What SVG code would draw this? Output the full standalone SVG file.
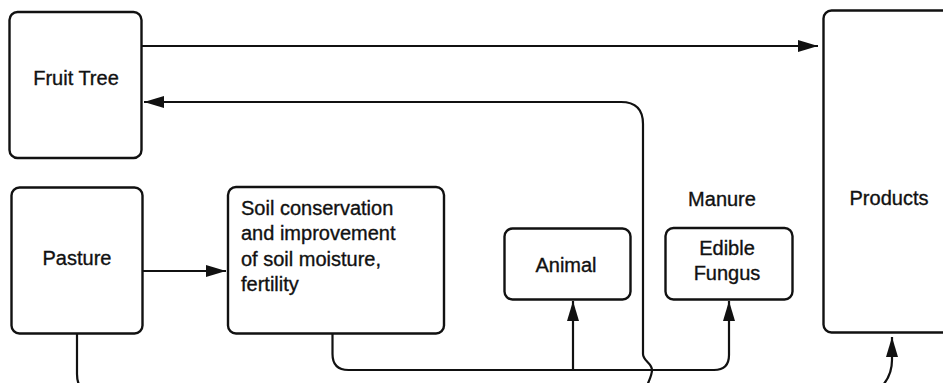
<svg xmlns="http://www.w3.org/2000/svg" width="943" height="383" viewBox="0 0 943 383">
<style>
.box{fill:#fff;stroke:#111;stroke-width:2.4}
.ln{fill:none;stroke:#111;stroke-width:2.2}
text{font-family:"Liberation Sans",Arial,sans-serif;font-size:20px;fill:#111;stroke:#111;stroke-width:0.35}
.c{text-anchor:middle}
</style>
<defs>
<marker id="ah" markerUnits="userSpaceOnUse" markerWidth="21" markerHeight="13" refX="20" refY="6" orient="auto">
<path d="M0,0 L20,6 L0,12 z" fill="#111"/>
</marker>
</defs>
<rect width="943" height="383" fill="#fff"/>
<g id="fruit-tree">
<rect class="box" x="9.5" y="12" width="132" height="146" rx="8"/>
<text class="c" x="76" y="85">Fruit Tree</text>
</g>
<g id="pasture">
<rect class="box" x="11.5" y="187.5" width="131" height="146" rx="8"/>
<text class="c" x="77" y="265">Pasture</text>
</g>
<g id="soil">
<rect class="box" x="228" y="187" width="216" height="146.5" rx="8"/>
<text x="241" y="215">Soil conservation</text>
<text x="241" y="240">and improvement</text>
<text x="241" y="266">of soil moisture,</text>
<text x="241" y="291">fertility</text>
</g>
<g id="animal">
<rect class="box" x="504.5" y="228.5" width="126" height="71" rx="8"/>
<text class="c" x="566" y="272">Animal</text>
</g>
<g id="fungus">
<rect class="box" x="665.5" y="228" width="127" height="71.5" rx="8"/>
<text class="c" x="727" y="255">Edible</text>
<text class="c" x="727" y="280">Fungus</text>
</g>
<g id="manure">
<text class="c" x="722" y="206">Manure</text>
</g>
<g id="products">
<rect class="box" x="823.5" y="10.5" width="140" height="322" rx="8"/>
<text class="c" x="889" y="205">Products</text>
</g>
<g id="connectors">
<path class="ln" d="M142 46 H818" marker-end="url(#ah)"/>
<path class="ln" d="M645 395 C645 386 652 378 652 370 C652 363 643 361 643 354 V124 Q643 102 621 102 H144" marker-end="url(#ah)"/>
<path class="ln" d="M143 271 H226" marker-end="url(#ah)"/>
<path class="ln" d="M77 334 V374 Q77 394 97 394 H864 C880 394 892 378 892 360 V337" marker-end="url(#ah)"/>
<path class="ln" d="M332.5 334 V354 Q332.5 370 348.5 370 H714 Q729 370 729 355 V301" marker-end="url(#ah)"/>
<path class="ln" d="M573 370 V301" marker-end="url(#ah)"/>
</g>
</svg>
